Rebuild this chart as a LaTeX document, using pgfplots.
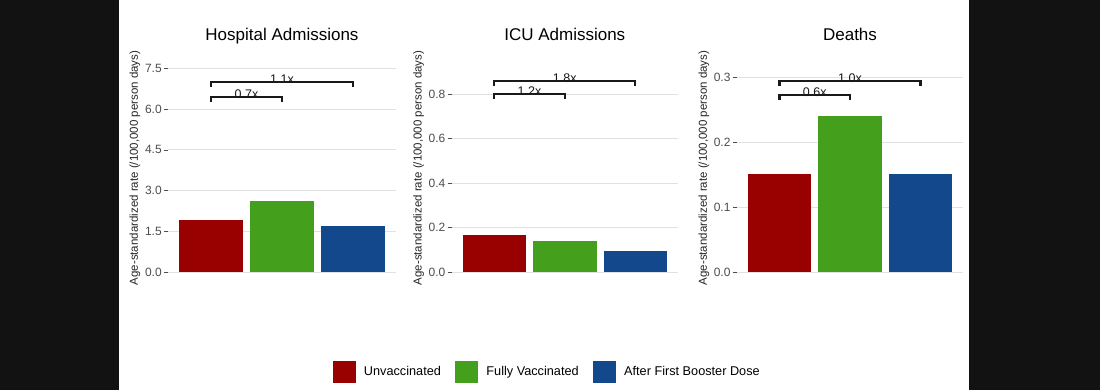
\documentclass[border=0pt]{standalone}
\usepackage{pgfplots}
\pgfplotsset{compat=1.18}
\usepackage{fontspec}
\setmainfont{Liberation Sans}
\definecolor{cRed}{RGB}{153,0,0}
\definecolor{cGreen}{RGB}{68,160,28}
\definecolor{cBlue}{RGB}{20,72,140}
\definecolor{tickgray}{RGB}{77,77,77}
\definecolor{gridgray}{RGB}{225,225,225}
\tikzset{blab/.style={anchor=base, yshift=-1.8pt, font=\fontsize{12.5}{14}\selectfont, text=black!90}}
\pgfplotsset{
  panel/.style={
    scale only axis,
    height=226.5pt,
    clip=false,
    xmin=0.4, xmax=3.6,
    xtick=\empty,
    axis line style={draw=none},
    ytick pos=left,
    tick align=outside,
    major tick length=4.5pt,
    tick style={tickgray, line width=0.6pt},
    ymajorgrids,
    major grid style={gridgray, line width=0.9pt},
    /pgf/number format/assume math mode=true,
    yticklabel style={font=\fontsize{12}{14}\selectfont, text=tickgray, inner xsep=2pt,
      /pgf/number format/.cd, fixed, fixed zerofill, precision=1},
    title style={at={(axis description cs:0.5,1)}, anchor=base, yshift=8.5pt,
      font=\fontsize{17}{20}\selectfont},
    ylabel={Age-standardized rate (/100,000 person days)},
    ylabel style={anchor=center, font=\fontsize{11.5}{13}\selectfont, text=black!85,
      at={(axis description cs:-0.148,0.5)}},
  },
  mybar/.style={ybar, bar width=0.9, bar shift=0pt, draw=none, fill=#1,
    legend image code/.code={\fill[##1] (0pt,-11pt) rectangle (23pt,11pt); \path (29pt,0pt);}},
  bracket/.style={black!90, line width=2.2pt, sharp plot, forget plot, mark=none},
}
\begin{document}
\begin{tikzpicture}
\fill[black!93] (0,0) rectangle (1100pt,390pt);
\fill[white] (119pt,0) rectangle (969pt,390pt);

% Panel 1
\begin{axis}[panel, at={(168.4pt,108.8pt)}, anchor=south west,
  width=227.2pt, ymin=-0.339, ymax=8.01,
  ytick={0,1.5,3,4.5,6,7.5},
  title={Hospital Admissions}]
\addplot[mybar=cRed] coordinates {(1,1.91)};
\addplot[mybar=cGreen] coordinates {(2,2.60)};
\addplot[mybar=cBlue] coordinates {(3,1.68)};
\addplot[bracket] coordinates {(1,6.82) (1,7.0) (3,7.0) (3,6.82)};
\addplot[bracket] coordinates {(1,6.27) (1,6.45) (2,6.45) (2,6.27)};
\node[blab] at (axis cs:2,7.0) {1.1x};
\node[blab] at (axis cs:1.5,6.45) {0.7x};
\end{axis}

% Panel 2
\begin{axis}[panel, at={(452pt,108.8pt)}, anchor=south west,
  width=225.6pt, ymin=-0.0413, ymax=0.9766,
  ytick={0,0.2,0.4,0.6,0.8},
  title={ICU Admissions},
  legend columns=3,
  legend style={at={(axis description cs:0.4226,-0.401)}, anchor=center,
    draw=none, fill=none, font=\fontsize{12.7}{14}\selectfont,
    /tikz/every even column/.append style={column sep=12.5pt}},
  legend cell align=left]
\addplot[mybar=cRed] coordinates {(1,0.165)};
\addlegendentry{Unvaccinated}
\addplot[mybar=cGreen] coordinates {(2,0.138)};
\addlegendentry{Fully Vaccinated}
\addplot[mybar=cBlue] coordinates {(3,0.093)};
\addlegendentry{After First Booster Dose}
\addplot[bracket] coordinates {(1,0.838) (1,0.860) (3,0.860) (3,0.838)};
\addplot[bracket] coordinates {(1,0.778) (1,0.800) (2,0.800) (2,0.778)};
\node[blab] at (axis cs:2,0.860) {1.8x};
\node[blab] at (axis cs:1.5,0.800) {1.2x};
\end{axis}

% Panel 3
\begin{axis}[panel, at={(737.2pt,108.8pt)}, anchor=south west,
  width=225.6pt, ymin=-0.01415, ymax=0.3343,
  ytick={0,0.1,0.2,0.3},
  title={Deaths}]
\addplot[mybar=cRed] coordinates {(1,0.150)};
\addplot[mybar=cGreen] coordinates {(2,0.240)};
\addplot[mybar=cBlue] coordinates {(3,0.150)};
\addplot[bracket] coordinates {(1,0.2863) (1,0.294) (3,0.294) (3,0.2863)};
\addplot[bracket] coordinates {(1,0.2643) (1,0.272) (2,0.272) (2,0.2643)};
\node[blab] at (axis cs:2,0.294) {1.0x};
\node[blab] at (axis cs:1.5,0.272) {0.6x};
\end{axis}
\end{tikzpicture}
\end{document}
